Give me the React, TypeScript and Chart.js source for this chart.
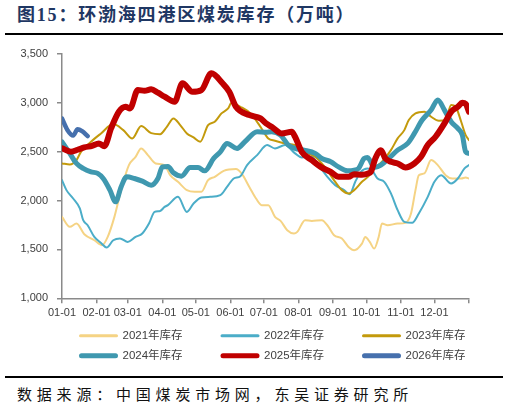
import React, { useEffect, useRef } from "react";
import { Chart, registerables } from "chart.js";

Chart.register(...registerables);

// ---- axis data ----
const monthStarts = [0, 31, 59, 90, 120, 151, 181, 212, 243, 273, 304, 334];
const monthLabels = ["01-01", "02-01", "03-01", "04-01", "05-01", "06-01", "07-01", "08-01", "09-01", "10-01", "11-01", "12-01"];
const yearEnd = 365;
const yTicks = [1000, 1500, 2000, 2500, 3000, 3500];
const yTickLabels = ["1,000", "1,500", "2,000", "2,500", "3,000", "3,500"];

// ---- series (day of year, inventory 万吨) ----
const days2021 = [0, 7, 13, 20, 29, 36, 41, 47, 53, 60, 66, 71, 77, 84, 92, 97, 104, 112, 119, 125, 131, 137, 145, 156, 161, 168, 174, 179, 185, 191, 196, 202, 208, 211, 218, 224, 233, 239, 244, 251, 257, 262, 269, 272, 276, 280, 284, 287, 292, 301, 308, 313, 317, 320, 325, 331, 337, 344, 350, 358, 362, 365];
const inv2021 = [1833, 1731, 1765, 1656, 1594, 1543, 1628, 1833, 2107, 2363, 2448, 2534, 2465, 2380, 2363, 2260, 2192, 2107, 2090, 2090, 2209, 2243, 2304, 2322, 2278, 2140, 2021, 1953, 1953, 1833, 1792, 1697, 1663, 1680, 1799, 1792, 1799, 1731, 1645, 1612, 1526, 1492, 1560, 1628, 1577, 1509, 1628, 1765, 1748, 1765, 1772, 1868, 2107, 2260, 2278, 2414, 2363, 2260, 2226, 2226, 2237, 2226];

const days2022 = [0, 4, 10, 16, 19, 23, 29, 35, 40, 46, 52, 59, 66, 72, 78, 83, 88, 92, 95, 104, 112, 118, 125, 133, 142, 148, 154, 160, 166, 175, 184, 191, 200, 209, 215, 224, 230, 238, 245, 253, 258, 263, 268, 274, 278, 283, 289, 295, 301, 307, 314, 320, 328, 334, 340, 349, 355, 361, 365];
const inv2022 = [2209, 2107, 2021, 1919, 1799, 1748, 1628, 1567, 1519, 1594, 1612, 1577, 1628, 1663, 1765, 1884, 1894, 1935, 1953, 2038, 1884, 1970, 2031, 2038, 2055, 2140, 2226, 2250, 2363, 2465, 2568, 2534, 2568, 2483, 2441, 2450, 2363, 2243, 2158, 2107, 2066, 2192, 2294, 2329, 2311, 2226, 2192, 2073, 1902, 1782, 1772, 1868, 2038, 2192, 2260, 2175, 2226, 2329, 2363];

const days2023 = [0, 7, 13, 17, 26, 35, 46, 55, 63, 71, 80, 88, 94, 100, 106, 112, 118, 124, 131, 137, 143, 149, 152, 160, 169, 178, 185, 191, 200, 209, 218, 227, 236, 245, 251, 257, 262, 269, 275, 280, 287, 295, 301, 307, 311, 317, 325, 331, 338, 344, 349, 353, 358, 362, 365];
const inv2023 = [2380, 2370, 2414, 2499, 2602, 2687, 2783, 2721, 2636, 2762, 2690, 2680, 2755, 2841, 2773, 2687, 2646, 2602, 2773, 2807, 2892, 2943, 3001, 2960, 2892, 2755, 2636, 2612, 2585, 2568, 2499, 2448, 2339, 2192, 2107, 2073, 2107, 2192, 2250, 2329, 2397, 2516, 2636, 2721, 2824, 2892, 2909, 2858, 2817, 2824, 2977, 2960, 2807, 2670, 2619];

const days2024 = [0, 7, 13, 19, 26, 32, 37, 43, 48, 53, 58, 65, 72, 80, 86, 90, 95, 100, 107, 115, 122, 128, 136, 142, 148, 157, 164, 175, 183, 188, 196, 203, 209, 217, 227, 233, 241, 248, 256, 262, 266, 271, 274, 276, 280, 286, 293, 301, 310, 316, 323, 331, 337, 343, 349, 355, 359, 362, 365];
const inv2024 = [2600, 2483, 2380, 2329, 2294, 2278, 2226, 2107, 1987, 2140, 2243, 2226, 2199, 2158, 2226, 2345, 2350, 2284, 2250, 2339, 2339, 2304, 2431, 2499, 2585, 2534, 2602, 2704, 2700, 2704, 2670, 2568, 2534, 2516, 2483, 2431, 2397, 2345, 2304, 2310, 2329, 2431, 2441, 2414, 2339, 2363, 2431, 2516, 2585, 2687, 2824, 2926, 3029, 2926, 2807, 2739, 2670, 2499, 2483];

const days2025 = [0, 8, 14, 20, 27, 33, 38, 44, 51, 57, 61, 68, 74, 80, 86, 92, 101, 108, 117, 125, 134, 144, 150, 156, 168, 178, 183, 188, 197, 206, 209, 215, 224, 232, 241, 248, 257, 262, 269, 275, 277, 281, 286, 290, 295, 301, 308, 316, 322, 328, 335, 343, 349, 355, 359, 362, 365];
const inv2025 = [2535, 2500, 2520, 2544, 2560, 2585, 2557, 2739, 2909, 2960, 2943, 3131, 3124, 3138, 3104, 3063, 3012, 3200, 3114, 3131, 3302, 3200, 3114, 2960, 2875, 2841, 2790, 2755, 2687, 2704, 2653, 2499, 2414, 2345, 2294, 2243, 2243, 2270, 2265, 2280, 2294, 2431, 2516, 2431, 2397, 2380, 2339, 2380, 2448, 2568, 2653, 2790, 2909, 2960, 3001, 2990, 2909];

const days2026 = [0, 5, 10, 14, 18, 23];
const inv2026 = [2840, 2720, 2665, 2730, 2710, 2660];

const seriesLabels = ["2021年库存", "2022年库存", "2023年库存", "2024年库存", "2025年库存", "2026年库存"];
const seriesDays = [days2021, days2022, days2023, days2024, days2025, days2026];
const seriesValues = [inv2021, inv2022, inv2023, inv2024, inv2025, inv2026];
const seriesColors = ["#f5d384", "#4badc8", "#c39a0c", "#3f98af", "#c00000", "#4670ad"];
const seriesWidths = [2, 2, 2, 5, 6, 4.5];
const legendWidths = [3, 3, 3, 5, 5, 5];

const gridLegend = {
  id: "gridLegend",
  afterDraw(chart: any) {
    const { ctx, chartArea } = chart;
    ctx.save();
    ctx.font = '11.5px "Liberation Sans", "Noto Sans CJK SC", sans-serif';
    ctx.textBaseline = "middle";
    ctx.textAlign = "left";
    for (let i = 0; i < seriesLabels.length; i++) {
      const col = i % 3;
      const row = Math.floor(i / 3);
      const x = chartArea.left + 17 + col * 141.5;
      const y = chartArea.bottom + 37.4 + row * 20;
      ctx.beginPath();
      ctx.lineCap = "round";
      ctx.strokeStyle = seriesColors[i];
      ctx.lineWidth = legendWidths[i];
      ctx.moveTo(x + legendWidths[i] / 2, y);
      ctx.lineTo(x + 39 - legendWidths[i] / 2, y);
      ctx.stroke();
      ctx.fillStyle = "#404040";
      ctx.fillText(seriesLabels[i], x + 43.5, y + 0.5);
    }
    ctx.restore();
  },
};

export default function App() {
  const ref = useRef<HTMLCanvasElement>(null);

  useEffect(() => {
    const datasets = seriesLabels.map((label, i) => ({
      label,
      data: seriesDays[i].map((d, j) => ({ x: d, y: seriesValues[i][j] })),
      borderColor: seriesColors[i],
      backgroundColor: seriesColors[i],
      borderWidth: seriesWidths[i],
      borderCapStyle: "round" as const,
      borderJoinStyle: "round" as const,
      pointRadius: 0,
      cubicInterpolationMode: "monotone" as const,
      fill: false,
      order: seriesLabels.length - i,
    }));

    const axisColor = "#8a8a8a";
    const tickFont = { family: '"Liberation Sans", Arial, sans-serif', size: 11 };

    const chart = new Chart(ref.current as HTMLCanvasElement, {
      type: "line",
      data: { datasets },
      plugins: [gridLegend],
      options: {
        animation: false,
        responsive: false,
        events: [],
        layout: { padding: { left: 0, right: 40, top: 16, bottom: 49.7 } },
        plugins: { legend: { display: false }, tooltip: { enabled: false } },
        scales: {
          x: {
            type: "linear",
            min: 0,
            max: yearEnd,
            afterBuildTicks: (axis: any) => {
              axis.ticks = [...monthStarts, yearEnd].map((v) => ({ value: v }));
            },
            afterFit: (axis: any) => {
              axis.height = 25;
            },
            ticks: {
              autoSkip: false,
              maxRotation: 0,
              minRotation: 0,
              padding: 3,
              color: "#404040",
              font: tickFont,
              callback: (value: any) => {
                const k = monthStarts.indexOf(Number(value));
                return k >= 0 ? monthLabels[k] : "";
              },
            },
            grid: { display: true, drawOnChartArea: false, drawTicks: true, tickLength: 5, color: axisColor, lineWidth: 1.5 },
            border: { display: true, color: axisColor, width: 1.5 },
          },
          y: {
            type: "linear",
            min: yTicks[0],
            max: yTicks[yTicks.length - 1],
            afterBuildTicks: (axis: any) => {
              axis.ticks = yTicks.map((v) => ({ value: v }));
            },
            afterFit: (axis: any) => {
              axis.width = 62;
            },
            ticks: {
              padding: 9,
              color: "#404040",
              font: tickFont,
              callback: (value: any) => {
                const k = yTicks.indexOf(Number(value));
                return k >= 0 ? yTickLabels[k] : "";
              },
            },
            grid: { display: true, drawOnChartArea: false, drawTicks: true, tickLength: 5, color: axisColor, lineWidth: 1.5 },
            border: { display: true, color: axisColor, width: 1.5 },
          },
        },
      } as any,
    });
    return () => chart.destroy();
  }, []);

  return (
    <div style={{ position: "absolute", left: 0, top: 0, width: 509, height: 410, background: "#fff", overflow: "hidden" }}>
      <div
        style={{
          position: "absolute",
          left: 17,
          top: 4,
          fontFamily: '"Liberation Serif", "Noto Sans CJK SC", serif',
          fontWeight: 700,
          fontSize: 18,
          lineHeight: "22px",
          letterSpacing: "1.8px",
          color: "#1f3763",
          whiteSpace: "nowrap",
        }}
      >
        图15：环渤海四港区煤炭库存（万吨）
      </div>
      <div style={{ position: "absolute", left: 5, top: 33.3, width: 498, height: 2, background: "#000" }} />
      <div style={{ position: "absolute", left: 0, top: 38, width: 509, height: 335 }}>
        <canvas ref={ref} width={509} height={335} style={{ width: 509, height: 335, display: "block" }} />
      </div>
      <div style={{ position: "absolute", left: 5, top: 376, width: 498, height: 2, background: "#000" }} />
      <div
        style={{
          position: "absolute",
          left: 17,
          top: 384.5,
          fontFamily: '"Noto Sans CJK SC", sans-serif',
          fontSize: 15,
          lineHeight: "18px",
          letterSpacing: "4.8px",
          color: "#111",
          whiteSpace: "nowrap",
        }}
      >
        数据来源：中国煤炭市场网，东吴证券研究所
      </div>
    </div>
  );
}
